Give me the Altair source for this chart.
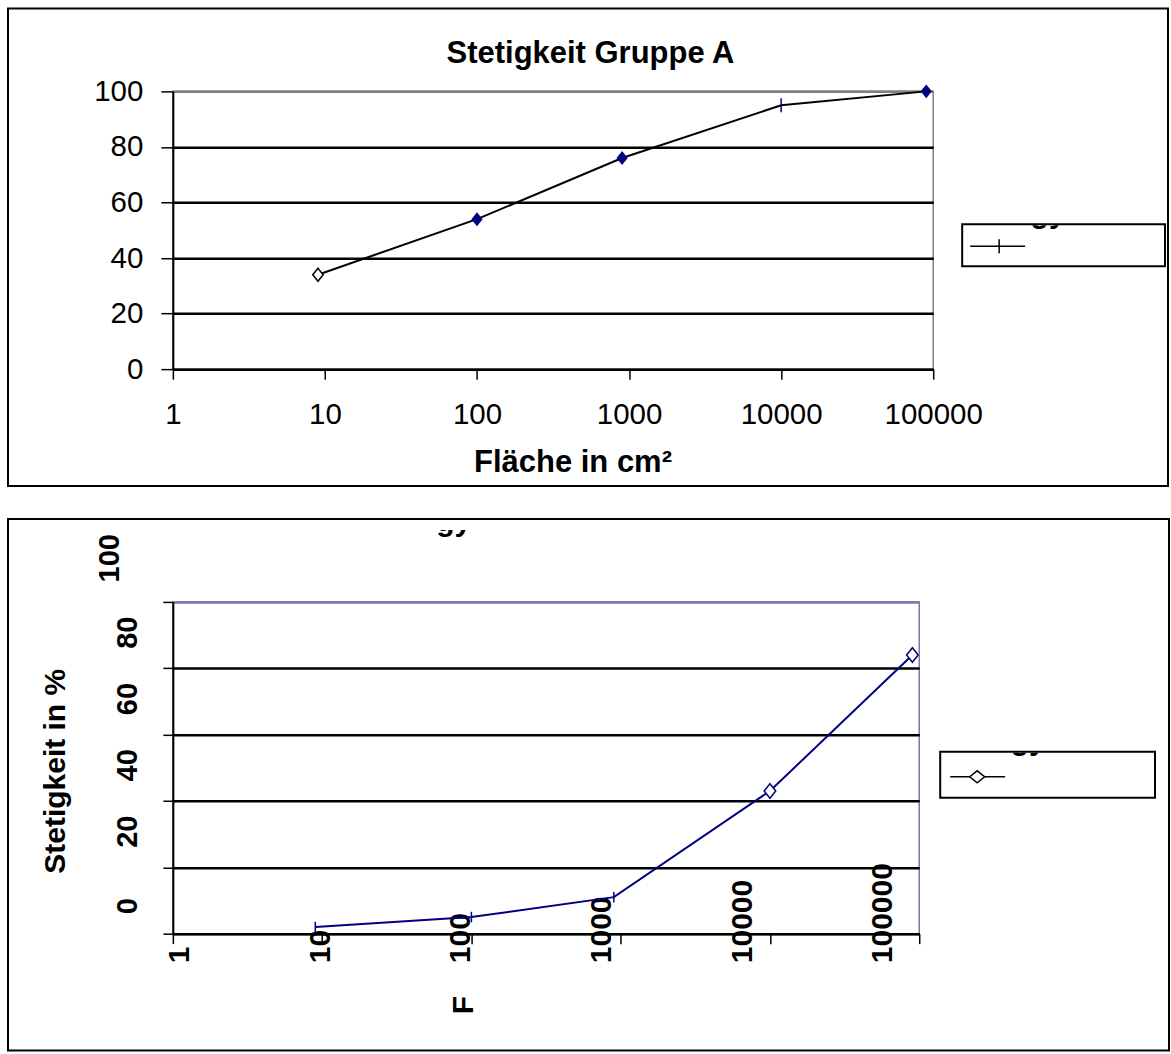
import altair as alt
import pandas as pd

# ---- data ----
AREA = [9, 100, 900, 10000, 90000]            # Fläche in cm²
STETIGKEIT_A = [34, 54, 76, 95, 100]          # Gruppe A (%)
STETIGKEIT_B = [2, 5, 11, 43, 84]             # Gruppe B (%)
X_TICKS = [1, 10, 100, 1000, 10000, 100000]
Y_TICKS = [0, 20, 40, 60, 80, 100]
TITLE_A = "Stetigkeit Gruppe A"
X_TITLE_A = "Fläche in cm²"
Y_TITLE_B = "Stetigkeit in %"
X_TITLE_B = "F"
CLIPPED_TEXT = "gy"   # only the descenders of the clipped legend / title text remain visible

FONT = "Liberation Sans"
NAVY = "#000080"
DIAMOND = "M-0.8,0L0,-1L0.8,0L0,1Z"
WIDE_DIAMOND = "M-1,0L0,-0.8L1,0L0,0.8Z"
VTICK = "M0,-1V1"

df_a = pd.DataFrame({"area": AREA, "pct": STETIGKEIT_A, "i": list(range(len(AREA)))})
df_b = pd.DataFrame({"area": AREA, "pct": STETIGKEIT_B, "i": list(range(len(AREA)))})
one = pd.DataFrame({"k": [0]})

W_A, H_A = 761, 278
W_B, H_B = 747, 332

dec = alt.Chart(one)


def clipped_fragment(x, baseline, cover_top):
    """Text whose upper part is hidden, leaving only descenders visible."""
    txt = dec.mark_text(text=CLIPPED_TEXT, font=FONT, fontSize=30, fontWeight="bold",
                        color="black", align="center", baseline="alphabetic").encode(
        x=alt.value(x), y=alt.value(baseline))
    cover = dec.mark_rect(fill="white", strokeWidth=0, opacity=1).encode(
        x=alt.value(x - 24), x2=alt.value(x + 24),
        y=alt.value(baseline - 40), y2=alt.value(cover_top))
    return [txt, cover]


# ---------------- top panel ----------------
xa = alt.X("area:Q",
           scale=alt.Scale(type="log", domain=[1, 100000], nice=False),
           axis=alt.Axis(values=X_TICKS, format="d", grid=False,
                         domainColor="black", domainWidth=2,
                         tickColor="black", tickWidth=1.5, tickSize=10,
                         labelFont=FONT, labelFontSize=29.5, labelColor="black",
                         labelPadding=35, labelBaseline="middle", labelAlign="center",
                         labelFlush=False, labelOverlap=False,
                         title=X_TITLE_A, titleFont=FONT, titleFontSize=31,
                         titleFontWeight="bold", titleColor="black",
                         titleX=400, titleY=102, titleAlign="center",
                         titleBaseline="alphabetic"))
ya = alt.Y("pct:Q",
           scale=alt.Scale(domain=[0, 100], nice=False),
           axis=alt.Axis(values=Y_TICKS, grid=True,
                         gridColor=alt.condition("datum.value == 100", alt.value("#808080"), alt.value("black")),
                         gridWidth=2.5,
                         domainColor="black", domainWidth=2,
                         tickColor="black", tickWidth=1.5, tickSize=12,
                         labelFont=FONT, labelFontSize=29.5, labelColor="black",
                         labelPadding=18, labelBaseline="middle", labelFlush=False,
                         labelOverlap=False, title=None))

base_a = alt.Chart(df_a)
line_a = base_a.mark_line(color="black", strokeWidth=2).encode(x=xa, y=ya)
hollow_a = base_a.transform_filter("datum.i == 0").mark_point(
    shape=DIAMOND, size=169, filled=True, fill="white", stroke="black", strokeWidth=1.5, opacity=1
).encode(x=xa, y=ya)
filled_a = base_a.transform_filter("indexof([1, 2, 4], datum.i) >= 0").mark_point(
    shape=DIAMOND, size=196, filled=True, color=NAVY, opacity=1
).encode(x=xa, y=ya)
tick_a = base_a.transform_filter("datum.i == 3").mark_point(
    shape=VTICK, size=196, filled=False, stroke=NAVY, strokeWidth=1.5, opacity=1
).encode(x=xa, y=ya)

box_a = dec.mark_rect(filled=False, stroke="black", strokeWidth=2).encode(
    x=alt.value(-165), x2=alt.value(996), y=alt.value(-83), y2=alt.value(395))
title_a = dec.mark_text(text=TITLE_A, font=FONT, fontSize=31, fontWeight="bold",
                        color="black", align="center", baseline="alphabetic").encode(
    x=alt.value(418), y=alt.value(-28.5))
frag_a = clipped_fragment(876, 131.5, 134)
leg_box_a = dec.mark_rect(filled=False, stroke="black", strokeWidth=2).encode(
    x=alt.value(790), x2=alt.value(993), y=alt.value(133), y2=alt.value(175))
leg_line_a = dec.mark_rule(color="black", strokeWidth=1.5).encode(
    x=alt.value(798), x2=alt.value(853), y=alt.value(155))
leg_sym_a = dec.mark_point(shape=VTICK, size=196, filled=False, stroke="black",
                           strokeWidth=1.5, opacity=1).encode(x=alt.value(827), y=alt.value(155))

top = alt.layer(line_a, hollow_a, filled_a, tick_a, title_a, *frag_a, box_a,
                leg_box_a, leg_line_a, leg_sym_a).properties(
    width=W_A, height=H_A,
    view=alt.ViewBackground(stroke="#808080", strokeWidth=1.5))

# ---------------- bottom panel ----------------
xb = alt.X("area:Q",
           scale=alt.Scale(type="log", domain=[1, 100000], nice=False),
           axis=alt.Axis(values=X_TICKS, format="d", grid=False,
                         domainColor="black", domainWidth=2,
                         tickColor="black", tickWidth=1.5, tickSize=10,
                         labelFont=FONT, labelFontSize=30, labelFontWeight="bold",
                         labelColor="black", labelAngle=270, labelAlign="left",
                         labelBaseline="middle", labelPadding=19,
                         labelOffset={"expr": "6.7 - 8.6 * log(datum.value) / LN10"},
                         labelFlush=False, labelOverlap=False,
                         title=X_TITLE_B, titleFont=FONT, titleFontSize=30,
                         titleFontWeight="bold", titleColor="black", titleAngle=270,
                         titleX=291, titleY=71, titleAlign="center",
                         titleBaseline="middle"))
yb = alt.Y("pct:Q",
           scale=alt.Scale(domain=[0, 100], nice=False),
           axis=alt.Axis(values=Y_TICKS, grid=True,
                         gridColor=alt.condition("datum.value == 100", alt.value("#7878a8"), alt.value("black")),
                         gridWidth=2.5,
                         domainColor="black", domainWidth=2,
                         tickColor="black", tickWidth=1.5, tickSize=10,
                         labelFont=FONT, labelFontSize=29, labelFontWeight="bold",
                         labelColor="black", labelAngle=270, labelAlign="left",
                         labelBaseline="middle", labelOffset=-20,
                         labelPadding={"expr": "datum.value == 100 ? 53 : 35"},
                         labelFlush=False, labelOverlap=False,
                         title=Y_TITLE_B, titleFont=FONT, titleFontSize=30,
                         titleFontWeight="bold", titleColor="black", titleAngle=270,
                         titleX=-117, titleY=169, titleAlign="center",
                         titleBaseline="middle"))

base_b = alt.Chart(df_b)
line_b = base_b.mark_line(color=NAVY, strokeWidth=2).encode(x=xb, y=yb)
tick_b = base_b.transform_filter("datum.i <= 2").mark_point(
    shape=VTICK, size=110, filled=False, stroke=NAVY, strokeWidth=1.5, opacity=1
).encode(x=xb, y=yb)
hollow_b = base_b.transform_filter("datum.i >= 3").mark_point(
    shape=DIAMOND, size=210, filled=True, fill="white", stroke=NAVY, strokeWidth=1.5, opacity=1
).encode(x=xb, y=yb)

frag_b_title = clipped_fragment(281, -71, -72)
frag_b_leg = clipped_fragment(856, 148.5, 151)
box_b = dec.mark_rect(filled=False, stroke="black", strokeWidth=2).encode(
    x=alt.value(-165), x2=alt.value(997), y=alt.value(-83), y2=alt.value(449))
leg_box_b = dec.mark_rect(filled=False, stroke="black", strokeWidth=2).encode(
    x=alt.value(768), x2=alt.value(983), y=alt.value(150), y2=alt.value(196))
leg_line_b = dec.mark_rule(color="black", strokeWidth=1.5).encode(
    x=alt.value(778), x2=alt.value(833), y=alt.value(175))
leg_sym_b = dec.mark_point(shape=WIDE_DIAMOND, size=225, filled=True, fill="white",
                           stroke="black", strokeWidth=1.5, opacity=1).encode(
    x=alt.value(805), y=alt.value(175))

bottom = alt.layer(line_b, tick_b, hollow_b, *frag_b_title, *frag_b_leg, box_b,
                   leg_box_b, leg_line_b, leg_sym_b).properties(
    width=W_B, height=H_B,
    view=alt.ViewBackground(stroke="#7878a8", strokeWidth=1.5))

chart = alt.vconcat(top, bottom, spacing=233, bounds="flush").properties(
    padding={"left": 6, "top": 6, "right": 0, "bottom": 0},
    background="white")

chart.save("out.html", embed_options={"renderer": "svg", "actions": False})
